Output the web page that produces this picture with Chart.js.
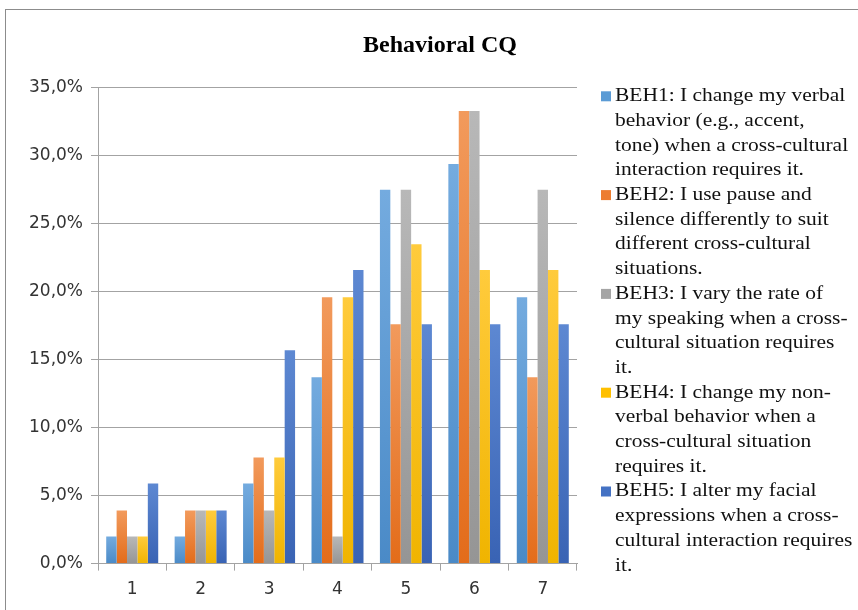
<!DOCTYPE html>
<html>
<head>
<meta charset="utf-8">
<script src="https://cdn.jsdelivr.net/npm/chart.js@4"></script>
<style>
  body { margin: 0; background: #fff; overflow: hidden; }
  #frame { position: absolute; left: 5px; top: 9px; width: 900px; height: 700px; border: 1px solid #8c8c8c; }
  #chart { position: absolute; left: 0; top: 0; }
</style>
</head>
<body>
<div id="frame"></div>
<canvas id="chart" width="858" height="610"></canvas>
<script>
// Chart values (percent of respondents)
const categories = ['1', '2', '3', '4', '5', '6', '7'];
const beh1 = [2.0, 2.0, 5.9, 13.7, 27.5, 29.4, 19.6];
const beh2 = [3.9, 3.9, 7.8, 19.6, 17.6, 33.3, 13.7];
const beh3 = [2.0, 3.9, 3.9, 2.0, 27.5, 33.3, 27.5];
const beh4 = [2.0, 3.9, 7.8, 19.6, 23.5, 21.6, 21.6];
const beh5 = [5.9, 3.9, 15.7, 21.6, 17.6, 17.6, 17.6];
const yTicks = [0, 5, 10, 15, 20, 25, 30, 35];

// Legend text, wrapped the way it is in the original
const legendLines = [
  ['BEH1: I change my verbal', 'behavior (e.g., accent,', 'tone) when a cross-cultural', 'interaction requires it.'],
  ['BEH2: I use pause and', 'silence differently to suit', 'different cross-cultural', 'situations.'],
  ['BEH3: I vary the rate of', 'my speaking when a cross-', 'cultural situation requires', 'it.'],
  ['BEH4: I change my non-', 'verbal behavior when a', 'cross-cultural situation', 'requires it.'],
  ['BEH5: I alter my facial', 'expressions when a cross-', 'cultural interaction requires', 'it.']
];

// top (light) / bottom (dark) colours of each series
const light = ['#74abdf', '#f29a5c', '#b8b8b8', '#ffcb3c', '#5d88d2'];
const dark = ['#4a8ac7', '#e36c1a', '#959595', '#f0b400', '#3963b4'];
const mid = ['#5b9bd5', '#ed7d31', '#a5a5a5', '#ffc000', '#4472c4'];

function barFill(i) {
  return (c) => {
    if (c.type !== 'data') return mid[i];
    const chart = c.chart;
    const y = chart.scales.y;
    if (!y || !chart.chartArea) return mid[i];
    const top = y.getPixelForValue(c.raw);
    const base = y.getPixelForValue(0);
    if (!isFinite(top) || !isFinite(base) || top === base) return mid[i];
    const g = chart.ctx.createLinearGradient(0, top, 0, base);
    g.addColorStop(0, light[i]);
    g.addColorStop(1, dark[i]);
    return g;
  };
}

// legend drawn in the space kept free on the right
const sideLegend = {
  id: 'sideLegend',
  afterDraw(chart) {
    const ctx = chart.ctx;
    const area = chart.chartArea;
    const boxX = area.right + 24;
    const textX = area.right + 38;
    let y = area.top + 8.5;
    ctx.save();
    ctx.font = '19px "Liberation Serif"';
    ctx.textBaseline = 'middle';
    ctx.textAlign = 'left';
    legendLines.forEach((lines, i) => {
      ctx.fillStyle = mid[i];
      ctx.fillRect(boxX, y - 5, 10, 10);
      ctx.fillStyle = '#111';
      lines.forEach((line) => {
        ctx.save();
        ctx.translate(textX, y);
        ctx.scale(1.13, 1);
        ctx.fillText(line, 0, 0);
        ctx.restore();
        y += 24.7;
      });
    });
    ctx.restore();
  }
};

const series = [beh1, beh2, beh3, beh4, beh5];
const datasets = series.map((data, i) => ({
  label: legendLines[i].join(' '),
  data: data,
  backgroundColor: barFill(i),
  borderWidth: 0,
  categoryPercentage: 0.76,
  barPercentage: 1.0
}));

const gridColor = '#a3a3a3';
const tickFont = { family: '"DejaVu Sans"', size: 17 };

const ctx = document.getElementById('chart').getContext('2d');
const chart = new Chart(ctx, {
  type: 'bar',
  data: {
    labels: categories,
    datasets: datasets
  },
  options: {
    responsive: false,
    animation: false,
    layout: {
      padding: { left: 22, right: 0, top: 0, bottom: 1 }
    },
    scales: {
      x: {
        grid: {
          offset: true,
          drawOnChartArea: false,
          tickLength: 7,
          color: gridColor
        },
        border: { color: gridColor },
        ticks: { color: '#333', font: tickFont, padding: 9 }
      },
      y: {
        min: 0,
        max: 35,
        afterBuildTicks: (scale) => {
          scale.ticks = yTicks.map((v) => ({ value: v }));
        },
        afterFit: (scale) => { scale.width = 76; },
        grid: { color: gridColor, tickLength: 7 },
        border: { color: gridColor },
        ticks: {
          color: '#333',
          font: tickFont,
          padding: 8,
          callback: (v) => v.toFixed(1).replace('.', ',') + '%'
        }
      },
      legendSpace: {
        type: 'linear',
        position: 'right',
        display: true,
        grid: { display: false },
        border: { display: false },
        ticks: { display: false },
        afterFit: (scale) => { scale.width = 281; }
      }
    },
    plugins: {
      legend: { display: false },
      tooltip: { enabled: false },
      title: {
        display: true,
        text: 'Behavioral CQ',
        color: '#000',
        font: { family: '"Liberation Serif"', size: 24, weight: 'bold' },
        padding: { top: 31, bottom: 28 }
      }
    }
  },
  plugins: [sideLegend]
});
</script>
</body>
</html>
